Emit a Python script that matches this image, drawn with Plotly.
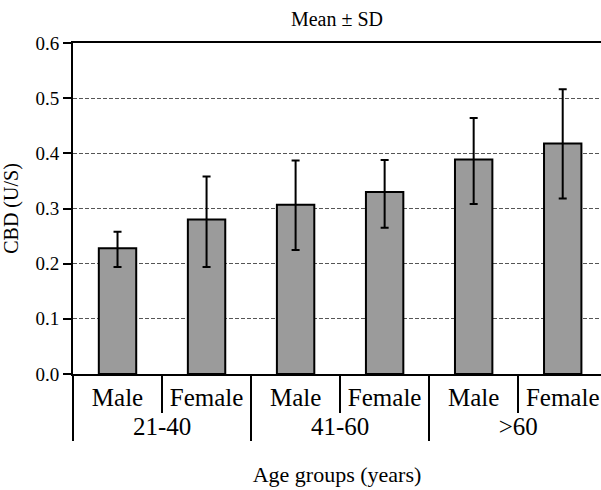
import plotly.graph_objects as go

age_groups = ["21-40", "21-40", "41-60", "41-60", ">60", ">60"]
sexes = ["Male", "Female", "Male", "Female", "Male", "Female"]
means = [0.228, 0.280, 0.307, 0.330, 0.389, 0.418]
sd_plus = [0.030, 0.078, 0.080, 0.058, 0.075, 0.098]
sd_minus = [0.034, 0.086, 0.082, 0.065, 0.081, 0.100]
y_ticks = [0.0, 0.1, 0.2, 0.3, 0.4, 0.5, 0.6]

FONT = "'Liberation Serif', 'Times New Roman', Times, 'DejaVu Serif', serif"

fig = go.Figure()
fig.add_trace(go.Bar(
    x=[age_groups, sexes],
    y=means,
    width=0.42,
    marker=dict(color="#9b9b9b", line=dict(color="black", width=2)),
    error_y=dict(type="data", array=sd_plus, arrayminus=sd_minus,
                 color="black", thickness=2, width=4),
    showlegend=False,
    hoverinfo="skip",
))

fig.update_layout(
    width=601, height=490,
    margin=dict(l=73, r=0, t=43, b=116),
    paper_bgcolor="white", plot_bgcolor="white",
    font=dict(family=FONT, color="black", size=20),
    title=dict(text="Mean ± SD", x=0.5, xanchor="center", xref="paper",
               y=1 - 19 / 490, yref="container", yanchor="middle",
               font=dict(family=FONT, size=20, color="black")),
)

fig.update_xaxes(
    type="multicategory",
    range=[-0.5, 5.43],
    showline=True, linecolor="black", linewidth=2, mirror=True,
    ticks="outside", tickson="boundaries", ticklen=37, tickwidth=2, tickcolor="black",
    showdividers=True, dividercolor="black", dividerwidth=2,
    tickfont=dict(family=FONT, size=25, color="black"),
    showgrid=False,
    title=dict(text="Age groups (years)", font=dict(family=FONT, size=22, color="black"),
               standoff=28),
)

fig.update_yaxes(
    range=[0, 0.6],
    tickvals=y_ticks, tickformat=".1f",
    showline=True, linecolor="black", linewidth=2,
    ticks="outside", ticklen=8, tickwidth=2, tickcolor="black",
    tickfont=dict(family=FONT, size=19, color="black"),
    showgrid=True, gridcolor="#555555", gridwidth=1, griddash="4px,2px",
    zeroline=False,
    title=dict(text="CBD (U/S)", font=dict(family=FONT, size=20, color="black"),
               standoff=12),
)

fig.write_html("out.html", config={"displayModeBar": False, "staticPlot": True},
               post_script="document.body.style.margin='0';")
